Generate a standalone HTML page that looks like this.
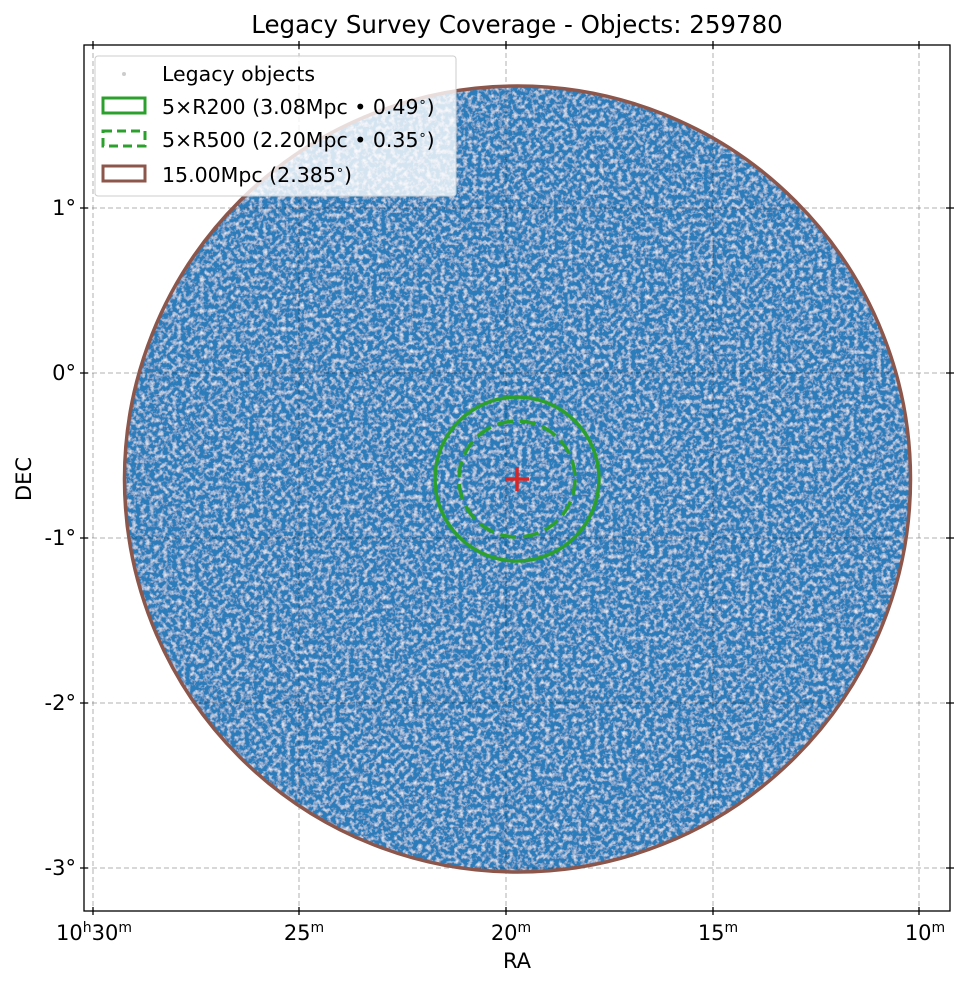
<!DOCTYPE html>
<html><head><meta charset="utf-8"><style>body{margin:0;background:#fff}svg{display:block}text{font-family:"DejaVu Sans","Liberation Sans",sans-serif;fill:#000}</style></head>
<body>
<svg width="965" height="986" viewBox="0 0 965 986" xmlns="http://www.w3.org/2000/svg">
<defs>
<filter id="tex" x="0" y="0" width="100%" height="100%">
<feTurbulence type="fractalNoise" baseFrequency="0.22" numOctaves="3" seed="5" result="n"/>
<feColorMatrix in="n" type="matrix" values="0 0 0 0 1  0 0 0 0 1  0 0 0 0 1  0 0 0 1.8 -0.8" result="w"/>
<feComposite in="w" in2="SourceGraphic" operator="in" result="wc"/>
<feMerge><feMergeNode in="SourceGraphic"/><feMergeNode in="wc"/></feMerge>
</filter>
<clipPath id="pc"><rect x="84" y="45" width="866" height="866"/></clipPath>
</defs>
<rect width="965" height="986" fill="#fff"/>
<text x="517" y="33" font-size="24.5" text-anchor="middle">Legacy Survey Coverage - Objects: 259780</text>
<g clip-path="url(#pc)">
<circle cx="517.5" cy="479" r="393" fill="#2a7cba" filter="url(#tex)"/>
<g stroke="#000" stroke-opacity="0.3" stroke-dasharray="5,3" stroke-width="1">
<line x1="93" y1="45" x2="93" y2="911"/><line x1="299" y1="45" x2="299" y2="911"/><line x1="506" y1="45" x2="506" y2="911"/><line x1="713" y1="45" x2="713" y2="911"/><line x1="919" y1="45" x2="919" y2="911"/>
<line x1="84" y1="208" x2="950" y2="208"/><line x1="84" y1="373" x2="950" y2="373"/><line x1="84" y1="538" x2="950" y2="538"/><line x1="84" y1="703" x2="950" y2="703"/><line x1="84" y1="868" x2="950" y2="868"/>
</g>
<circle cx="517.5" cy="479" r="393" fill="none" stroke="#8c564b" stroke-width="3.5"/>
<circle cx="517" cy="479" r="82" fill="none" stroke="#2ca02c" stroke-width="3.5"/>
<circle cx="517" cy="479" r="58" fill="none" stroke="#2ca02c" stroke-width="3.5" stroke-dasharray="16,7"/>
<path d="M505 479h24M517 467v24" stroke="#d62728" stroke-width="3.5"/>
</g>
<rect x="84" y="45" width="866" height="866" fill="none" stroke="#000" stroke-width="1.3"/>
<g stroke="#000" stroke-width="1.3">
<path d="M93 907v8M299 907v8M506 907v8M713 907v8M919 907v8M93 41v8M299 41v8M506 41v8M713 41v8M919 41v8"/>
<path d="M80 208h8M80 373h8M80 538h8M80 703h8M80 868h8M946 208h8M946 373h8M946 538h8M946 703h8M946 868h8"/>
</g>
<g font-size="21" text-anchor="end">
<text x="76" y="215">1°</text><text x="76" y="380">0°</text><text x="76" y="545">-1°</text><text x="76" y="710">-2°</text><text x="76" y="875">-3°</text>
</g>
<g font-size="21" text-anchor="middle">
<text x="94" y="940">10<tspan font-size="14" dy="-8">h</tspan><tspan dy="8">30</tspan><tspan font-size="14" dy="-8">m</tspan></text>
<text x="304" y="940">25<tspan font-size="14" dy="-8">m</tspan></text>
<text x="511" y="940">20<tspan font-size="14" dy="-8">m</tspan></text>
<text x="718" y="940">15<tspan font-size="14" dy="-8">m</tspan></text>
<text x="925" y="940">10<tspan font-size="14" dy="-8">m</tspan></text>
</g>
<text x="517" y="968" font-size="21" text-anchor="middle">RA</text>
<text transform="translate(31,479) rotate(-90)" font-size="21" text-anchor="middle">DEC</text>
<rect x="95" y="56" width="361" height="140" rx="3" fill="#fff" fill-opacity="0.8" stroke="#ccc"/>
<circle cx="124" cy="74" r="2" fill="#ccc"/>
<rect x="103" y="98" width="42" height="15" fill="none" stroke="#2ca02c" stroke-width="3"/>
<rect x="103" y="131" width="42" height="15" fill="none" stroke="#2ca02c" stroke-width="3" stroke-dasharray="9,5"/>
<rect x="103" y="166" width="42" height="15" fill="none" stroke="#8c564b" stroke-width="3"/>
<g font-size="20.5">
<text x="162" y="81">Legacy objects</text>
<text x="162" y="114">5×R200 (3.08Mpc • 0.49<tspan font-size="13" dy="-8">∘</tspan><tspan dy="8">)</tspan></text>
<text x="162" y="147">5×R500 (2.20Mpc • 0.35<tspan font-size="13" dy="-8">∘</tspan><tspan dy="8">)</tspan></text>
<text x="162" y="182">15.00Mpc (2.385<tspan font-size="13" dy="-8">∘</tspan><tspan dy="8">)</tspan></text>
</g>
</svg>
</body></html>
